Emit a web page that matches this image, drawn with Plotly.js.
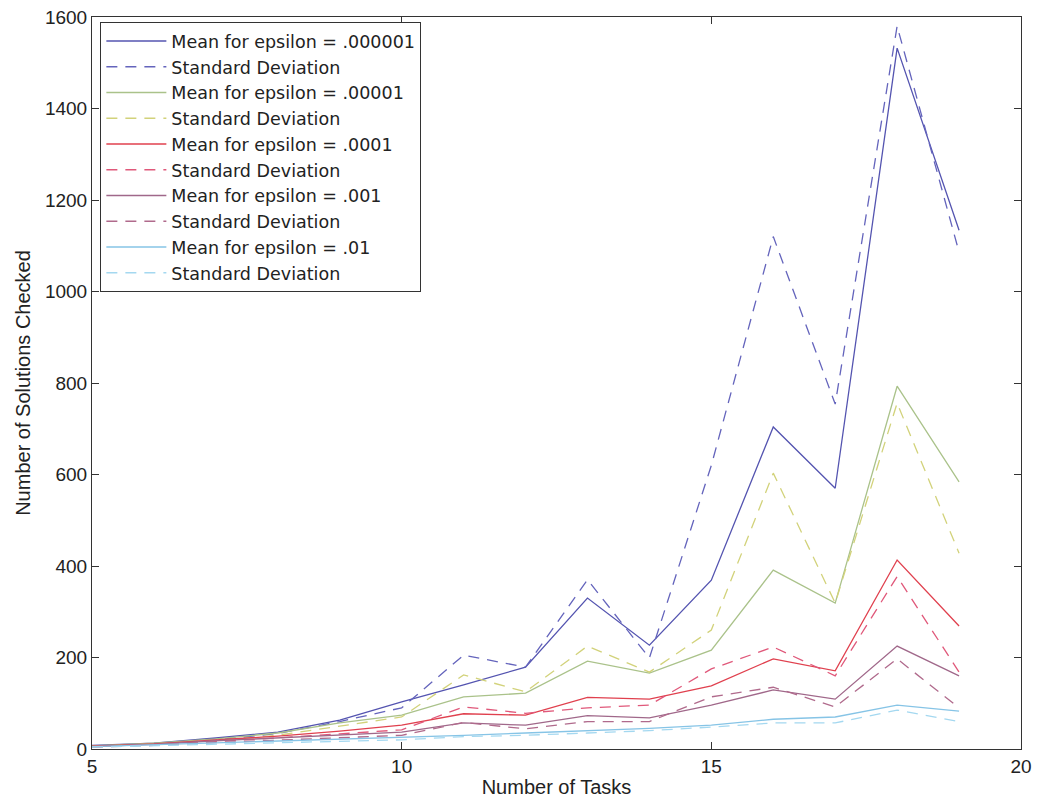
<!DOCTYPE html>
<html>
<head>
<meta charset="utf-8">
<script src="https://cdn.plot.ly/plotly-3.0.1.min.js"></script>
<style>html,body{margin:0;padding:0;background:#fff;}#chart{width:1039px;height:801px;}</style>
</head>
<body>
<div id="chart"></div>
<script>
const tasks = [5, 6, 7, 8, 9, 10, 11, 12, 13, 14, 15, 16, 17, 18, 19];

const mean_1e6 = [8, 13, 24, 37, 63, 103, 140, 179, 330, 227, 369, 704, 570, 1532, 1134];
const std_1e6  = [5, 10, 20, 34, 60, 90, 205, 179, 370, 199, 620, 1120, 754, 1580, 1086];
const mean_1e5 = [7, 13, 22, 35, 57, 74, 114, 122, 192, 166, 216, 391, 319, 793, 584];
const std_1e5  = [5, 10, 18, 30, 50, 70, 162, 125, 225, 168, 260, 603, 319, 756, 428];
const mean_1e4 = [6, 11, 20, 28, 39, 52, 77, 74, 113, 109, 138, 197, 171, 413, 269];
const std_1e4  = [5, 9, 16, 24, 33, 42, 92, 78, 90, 96, 175, 223, 160, 377, 168];
const mean_1e3 = [5, 10, 18, 24, 30, 37, 57, 52, 73, 68, 96, 129, 109, 225, 160];
const std_1e3  = [4, 8, 14, 19, 24, 30, 58, 44, 60, 60, 114, 135, 92, 197, 90];
const mean_1e2 = [5, 9, 14, 18, 22, 26, 30, 35, 40, 45, 52, 65, 70, 96, 83];
const std_1e2  = [4, 7, 11, 14, 17, 20, 27, 30, 35, 40, 48, 57, 57, 85, 60];

const names = [
  "Mean for epsilon = .000001", "Standard Deviation",
  "Mean for epsilon = .00001", "Standard Deviation",
  "Mean for epsilon = .0001", "Standard Deviation",
  "Mean for epsilon = .001", "Standard Deviation",
  "Mean for epsilon = .01", "Standard Deviation"
];
const series = [mean_1e6, std_1e6, mean_1e5, std_1e5, mean_1e4, std_1e4, mean_1e3, std_1e3, mean_1e2, std_1e2];
const colors = ["#5454b0", "#6464bc", "#aac28a", "#d2d27a", "#e0404e", "#e0587a", "#a0688a", "#b06a8c", "#86c4e6", "#a4d8f0"];

const traces = series.map((ys, i) => ({
  x: tasks, y: ys, name: names[i], type: "scatter", mode: "lines",
  line: {color: colors[i], width: 1.3, dash: (i % 2 === 1) ? "11px,8px" : "solid"}
}));

const fam = "Liberation Sans, Arial, sans-serif";
const tickFont = {family: fam, size: 19, color: "#222"};
const titleFont = {family: fam, size: 20, color: "#222"};
const legendFont = {family: "DejaVu Sans, Liberation Sans, sans-serif", size: 17.5, color: "#222"};
const axisCommon = {
  showline: true, linecolor: "#333", linewidth: 1, mirror: "ticks",
  ticks: "inside", ticklen: 7, tickcolor: "#333", showgrid: false, zeroline: false,
  tickfont: tickFont
};
const layout = {
  width: 1039, height: 801,
  margin: {l: 92, r: 18, t: 17, b: 52},
  paper_bgcolor: "#fff", plot_bgcolor: "#fff",
  font: tickFont,
  xaxis: Object.assign({}, axisCommon, {range: [5, 20], tickvals: [5, 10, 15, 20],
    title: {text: "Number of Tasks", font: titleFont, standoff: 4}}),
  yaxis: Object.assign({}, axisCommon, {range: [0, 1600], tickvals: [0, 200, 400, 600, 800, 1000, 1200, 1400, 1600],
    title: {text: "Number of Solutions Checked", font: titleFont, standoff: 8}}),
  showlegend: true,
  legend: {x: 0.009, y: 0.993, xanchor: "left", yanchor: "top",
    bgcolor: "#fff", bordercolor: "#333", borderwidth: 1,
    font: legendFont, itemwidth: 60, tracegroupgap: 0}
};
Plotly.newPlot("chart", traces, layout, {displayModeBar: false, staticPlot: true});
</script>
</body>
</html>
